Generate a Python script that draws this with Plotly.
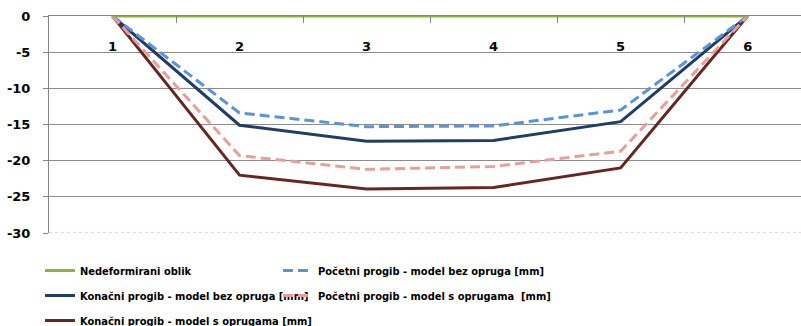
import plotly.graph_objects as go

# Čvorovi (oznake na osi x)
cvorovi = ["1", "2", "3", "4", "5", "6"]
polozaj = [1, 2, 3, 4, 5, 6]

# Progibi po čvorovima [mm]
nedeformirani = [0, 0, 0, 0, 0, 0]
pocetni_bez = [0, -13.4, -15.3, -15.2, -13.0, 0]
konacni_bez = [0, -15.1, -17.3, -17.2, -14.6, 0]
pocetni_s = [0, -19.3, -21.2, -20.8, -18.7, 0]
konacni_s = [0, -22.0, -23.9, -23.7, -21.0, 0]

y_ticks = [0, -5, -10, -15, -20, -25, -30]
y_tick_labels = ["0", "-5", "-10", "-15", "-20", "-25", "-30"]

serije = [
    ("Nedeformirani oblik", nedeformirani, "#8DB33E", "solid", "legend", "x2"),
    ("Konačni progib - model bez opruga [mm]", konacni_bez, "#1F3D66", "solid", "legend", "x"),
    ("Konačni progib - model s oprugama [mm]", konacni_s, "#672624", "solid", "legend", "x"),
    ("Početni progib - model bez opruga [mm]", pocetni_bez, "#5A93DB", "10px,5px", "legend2", "x"),
    ("Početni progib - model s oprugama  [mm]", pocetni_s, "#E5A09E", "10px,5px", "legend2", "x"),
]

fig = go.Figure()
for ime, vrijednosti, boja, crta, leg, xos in serije:
    fig.add_trace(go.Scatter(
        x=polozaj, y=vrijednosti, mode="lines", name=ime,
        line=dict(color=boja, width=3, dash=crta),
        legend=leg, legendgroup=ime, xaxis=xos, yaxis="y",
    ))

# Donja granica (-30) kao crvenkasta točkasta linija
fig.add_shape(type="line", xref="paper", x0=0, x1=1, yref="y", y0=-30, y1=-30,
              line=dict(color="white", width=2), layer="above")
fig.add_shape(type="line", xref="paper", x0=0, x1=1, yref="y", y0=-30, y1=-30,
              line=dict(color="#EBA3A3", width=1.2, dash="dot"), layer="above")

tick_font = dict(family="DejaVu Sans", size=13, color="black", weight="bold")
legend_font = dict(family="Liberation Sans Narrow, DejaVu Sans Condensed, DejaVu Sans",
                   size=11, color="black", weight="bold")
x_range = [0.5, 6.42]
granice = [p + 0.5 for p in polozaj[:-1]]

fig.update_layout(
    width=801, height=326,
    margin=dict(l=49, r=0, t=16, b=93, autoexpand=False),
    paper_bgcolor="white", plot_bgcolor="white",
    # gornja os s crticama na granicama čvorova
    xaxis=dict(
        side="top", range=x_range, tickvals=granice,
        ticks="inside", ticklen=7, tickcolor="#868686", tickwidth=1,
        showticklabels=False,
        showline=True, linecolor="#868686", linewidth=1,
        showgrid=False, zeroline=False,
    ),
    # oznake čvorova ispod gornje osi
    xaxis2=dict(
        overlaying="x", anchor="free", position=0.905,
        side="bottom", range=x_range, tickvals=polozaj, ticktext=cvorovi,
        ticks="", showline=False, showgrid=False, zeroline=False,
        tickfont=tick_font,
    ),
    yaxis=dict(
        range=[-30, 0], tickvals=y_ticks, ticktext=y_tick_labels,
        showgrid=True, gridcolor="#8C8C8C", gridwidth=1,
        showline=True, linecolor="#868686", linewidth=1,
        ticks="outside", ticklen=5, tickcolor="#868686",
        zeroline=False, tickfont=tick_font, ticklabelstandoff=10,
    ),
    legend=dict(
        xref="container", yref="container", x=40 / 801, y=1 - 256 / 326,
        xanchor="left", yanchor="top", orientation="v",
        traceorder="grouped", tracegroupgap=6, font=legend_font,
        bgcolor="rgba(0,0,0,0)",
    ),
    legend2=dict(
        xref="container", yref="container", x=278 / 801, y=1 - 256 / 326,
        xanchor="left", yanchor="top", orientation="v",
        traceorder="grouped", tracegroupgap=6, font=legend_font,
        bgcolor="rgba(0,0,0,0)",
    ),
)

fig.write_html("out.html")
